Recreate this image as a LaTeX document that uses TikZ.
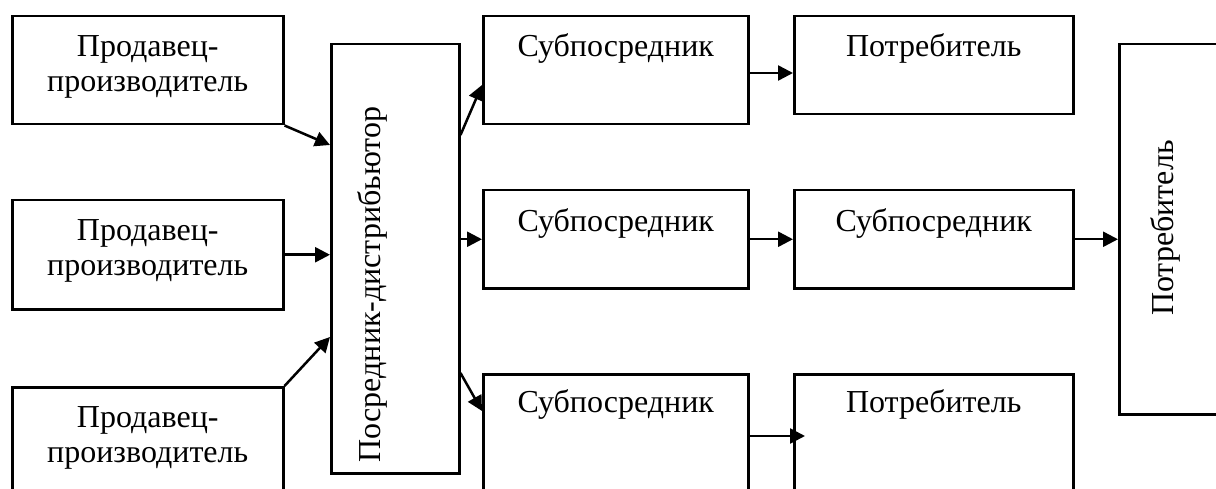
\documentclass[tikz,border=0pt]{standalone}
\usepackage{fontspec}
\setmainfont{Liberation Serif}
\usetikzlibrary{arrows.meta}
\begin{document}
\begin{tikzpicture}[x=1pt,y=-1pt,
  box/.style={draw, line width=2.5pt, rectangle, inner sep=0pt, anchor=north west},
  txt/.style={font=\fontsize{32}{35}\selectfont, align=center, inner sep=0pt, anchor=base},
  arr/.style={line width=2.5pt, -{Triangle[length=15pt,width=15pt]}}]
\useasboundingbox (0,0) rectangle (1216,489);
\clip (0,0) rectangle (1216,489);
% boxes
\node[box, minimum width=271pt, minimum height=108pt] (p1) at (11,15) {};
\node[box, minimum width=271pt, minimum height=109pt] (p2) at (11,199) {};
\node[box, minimum width=271pt, minimum height=150pt] (p3) at (11,386) {};
\node[box, minimum width=128pt, minimum height=429pt] (d) at (330,43) {};
\node[box, minimum width=265pt, minimum height=108pt] (s1) at (482,15) {};
\node[box, minimum width=265pt, minimum height=98pt] (s2) at (482,189) {};
\node[box, minimum width=265pt, minimum height=150pt] (s3) at (482,373) {};
\node[box, minimum width=279pt, minimum height=98pt] (c1) at (793,15) {};
\node[box, minimum width=279pt, minimum height=98pt] (s4) at (793,189) {};
\node[box, minimum width=279pt, minimum height=150pt] (c3) at (793,373) {};
\node[box, minimum width=150pt, minimum height=370pt] (c) at (1118,43) {};
% texts
\node[txt] (tp1) at ([yshift=-77pt]p1.north) {Продавец-\\производитель};
\node[txt] (tp2) at ([yshift=-77pt]p2.north) {Продавец-\\производитель};
\node[txt] (tp3) at ([yshift=-76pt]p3.north) {Продавец-\\производитель};
\node[txt, rotate=90, anchor=base west] (td) at ([xshift=50pt,yshift=12pt]d.south west) {Посредник-дистрибьютор};
\node[txt] (ts1) at ([yshift=-42pt]s1.north) {Субпосредник};
\node[txt] (ts2) at ([yshift=-43pt]s2.north) {Субпосредник};
\node[txt] (ts3) at ([yshift=-39pt]s3.north) {Субпосредник};
\node[txt] (tc1) at ([yshift=-42pt]c1.north) {Потребитель};
\node[txt] (ts4) at ([yshift=-43pt]s4.north) {Субпосредник};
\node[txt] (tc3) at ([yshift=-39pt]c3.north) {Потребитель};
\node[txt, rotate=90] (tc) at (1173,228) {Потребитель};
% arrows
\coordinate (c3in) at ([xshift=12pt,yshift=-63pt]c3.north west);
\draw[arr] (p1.south east) -- ([yshift=-102pt]d.north west);
\draw[arr] (p2.east) -- (p2.east -| d.west);
\draw[arr] (p3.north east) -- ([yshift=-294pt]d.north west);
\draw[arr] ([yshift=-92pt]d.north east) -- ([yshift=-70pt]s1.north west);
\draw[arr] (d.east |- s2.west) -- (s2.west);
\draw[arr] ([yshift=-330pt]d.north east) -- ([yshift=-38pt]s3.north west);
\draw[arr] ([yshift=-58pt]s1.north east) -- ([yshift=-58pt]c1.north west);
\draw[arr] (s2.east) -- (s4.west);
\draw[arr] ([yshift=-63pt]s3.north east) -- (c3in);
\draw[arr] (s4.east) -- (s4.east -| c.west);
\end{tikzpicture}
\end{document}
